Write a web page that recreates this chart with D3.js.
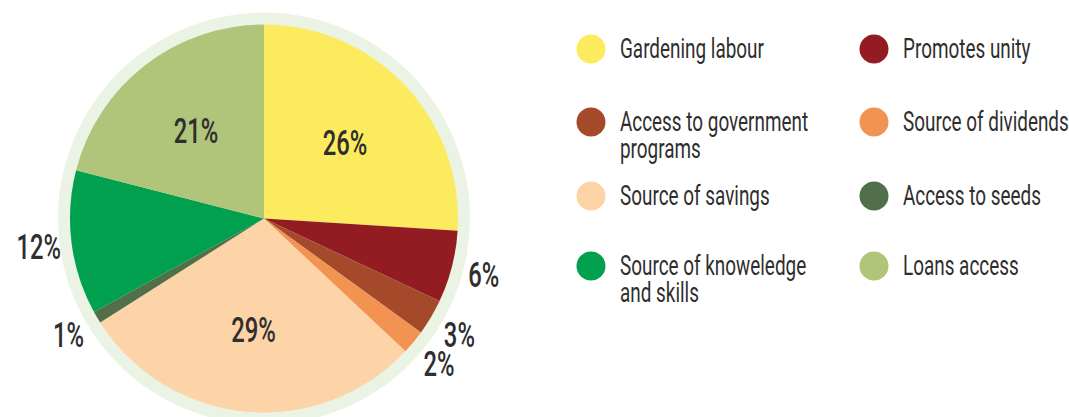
<!DOCTYPE html>
<html><head><meta charset="utf-8">
<script src="https://cdn.jsdelivr.net/npm/d3@7/dist/d3.min.js"></script>
<style>
html,body{margin:0;padding:0;background:#fff;}
text{font-family:Roboto,"DejaVu Sans",sans-serif;fill:#2e2e2e;}
</style></head>
<body><svg id="c" width="1069" height="417"></svg>
<script>
const categories = ["Gardening labour","Promotes unity","Access to government programs","Source of dividends","Source of savings","Access to seeds","Source of knoweledge and skills","Loans access"];
const values = [26,6,3,2,29,1,12,21];
const colors = ["#FDEB5F","#921C21","#A44A2B","#F29352","#FDD3A8","#51704A","#00A04F","#B0C47A"];
const legendLines = [["Gardening labour"],["Promotes unity"],["Access to government","programs"],["Source of dividends"],["Source of savings"],["Access to seeds"],["Source of knoweledge","and skills"],["Loans access"]];

const svg = d3.select("#c");
const cx = 264, cy = 218.5, R = 194, ringR = 206;
const g = svg.append("g").attr("transform",`translate(${cx},${cy})`);
g.append("circle").attr("r",ringR).attr("fill","#EBF3E4");
const pie = d3.pie().sort(null).value(d=>d)(values);
const arc = d3.arc().innerRadius(0).outerRadius(R);
g.selectAll("path.s").data(pie).join("path").attr("class","s")
  .attr("d",arc).attr("fill",(d,i)=>colors[i]);

const labelR = d => d.data >= 20 ? 111 : 227;
const SX = 0.68;
g.selectAll("text.p").data(pie).join("text").attr("class","p")
  .attr("transform",d=>{
    const a=(d.startAngle+d.endAngle)/2, r=labelR(d);
    return `translate(${r*Math.sin(a)},${-r*Math.cos(a)+12.5}) scale(${SX},1)`;
  })
  .attr("text-anchor","middle")
  .style("font-size","35px").style("font-weight","500")
  .text(d=>d.data+"%");

const leg = svg.append("g");
const colX = [591,874], rowY = [49,122,196,266];
categories.forEach((c,i)=>{
  const x = colX[i%2], y = rowY[Math.floor(i/2)];
  leg.append("circle").attr("cx",x).attr("cy",y).attr("r",14.5).attr("fill",colors[i]);
  const t = leg.append("text").attr("transform",`translate(${x+29},${y+8.5}) scale(0.7,1)`).style("font-size","27px");
  legendLines[i].forEach((l,j)=>t.append("tspan").attr("x",0).attr("y",j*28).text(l));
});
</script></body></html>
